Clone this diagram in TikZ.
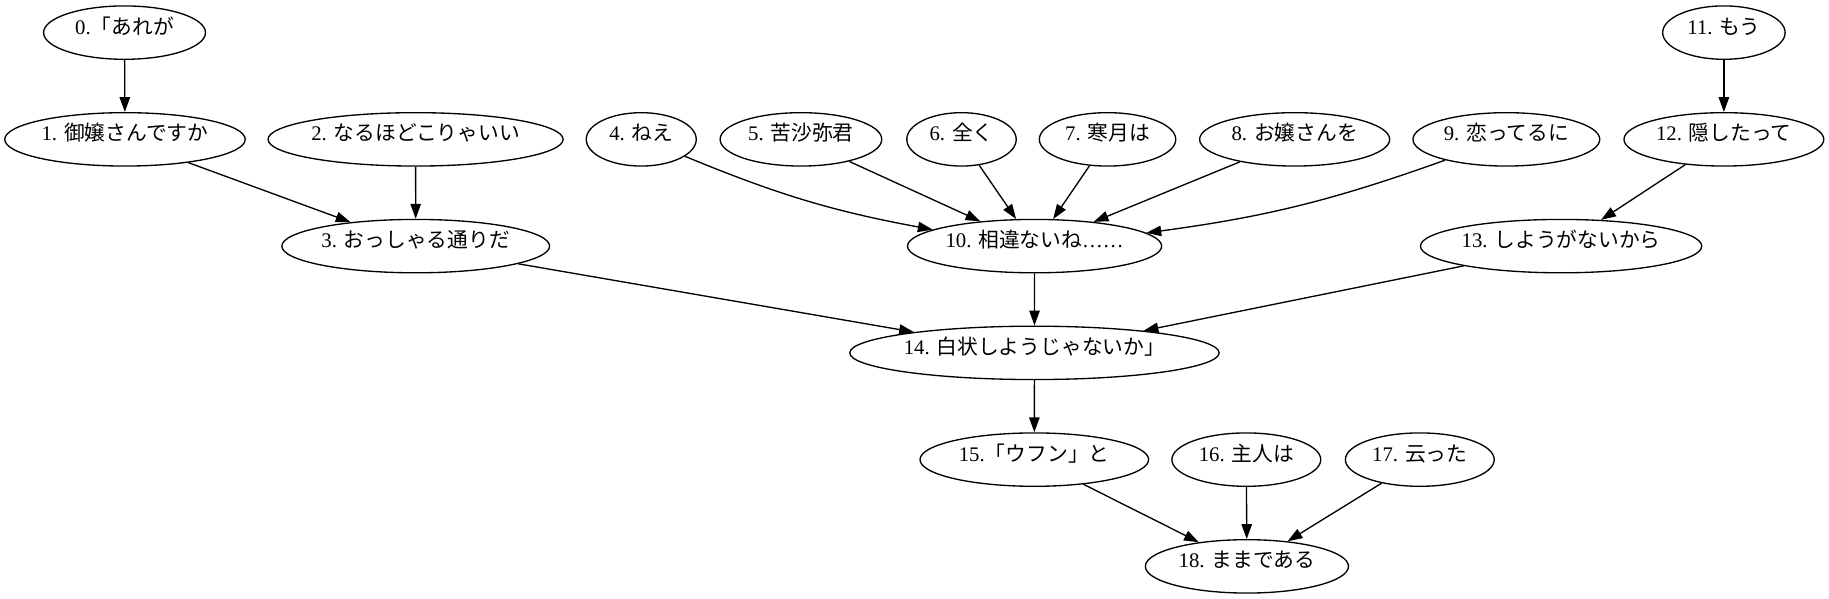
\documentclass[tikz,border=0pt]{standalone}
\usepackage{fontspec}
\setmainfont{Liberation Serif}
\newfontfamily\jpfont{Noto Sans CJK JP}
\usetikzlibrary{shapes.geometric,arrows.meta}
\newcommand{\jtxt}[1]{{\jpfont #1}}
\begin{document}
\begin{tikzpicture}[x=1pt,y=1pt,
  gnode/.style={draw, ellipse, line width=0.9pt, inner sep=0pt, minimum height=36pt,
    text height=10pt, text depth=8pt,
    font=\fontsize{14}{16}\selectfont},
  garrow/.style={line width=0.9pt, -{Triangle[length=10pt,width=7pt]}}]
\useasboundingbox (0,0) rectangle (1233.6,404);
\node[gnode, minimum width=109.2pt] (n0) at (84.0,382) {0.\jtxt{「あれが}};
\node[gnode, minimum width=162.2pt] (n1) at (84.3,310) {1. \jtxt{御嬢さんですか}};
\node[gnode, minimum width=197.8pt] (n2) at (280.3,310) {2. \jtxt{なるほどこりゃいい}};
\node[gnode, minimum width=180.6pt] (n3) at (280.4,238) {3. \jtxt{おっしゃる通りだ}};
\node[gnode, minimum width=74.2pt] (n4) at (432.5,310) {4. \jtxt{ねえ}};
\node[gnode, minimum width=109pt] (n5) at (540.2,310) {5. \jtxt{苦沙弥君}};
\node[gnode, minimum width=73.8pt] (n6) at (648.5,310) {6. \jtxt{全く}};
\node[gnode, minimum width=92pt] (n7) at (747.0,310) {7. \jtxt{寒月は}};
\node[gnode, minimum width=128.2pt] (n8) at (873.2,310) {8. \jtxt{お嬢さんを}};
\node[gnode, minimum width=126pt] (n9) at (1016.0,310) {9. \jtxt{恋ってるに}};
\node[gnode, minimum width=171.4pt] (n10) at (697.8,238) {10. \jtxt{相違ないね}……};
\node[gnode, minimum width=82.6pt] (n11) at (1162.7,382) {11. \jtxt{もう}};
\node[gnode, minimum width=134.8pt] (n12) at (1162.7,310) {12. \jtxt{隠したって}};
\node[gnode, minimum width=189.4pt] (n13) at (1052.9,238) {13. \jtxt{しようがないから}};
\node[gnode, minimum width=242.6pt] (n14) at (697.7,166) {14. \jtxt{白状しようじゃないか」}};
\node[gnode, minimum width=154.2pt] (n15) at (697.6,94) {15.\jtxt{「ウフン」と}};
\node[gnode, minimum width=100.4pt] (n16) at (840.6,94) {16. \jtxt{主人は}};
\node[gnode, minimum width=100.4pt] (n17) at (957.6,94) {17. \jtxt{云った}};
\node[gnode, minimum width=137pt] (n18) at (841.0,22) {18. \jtxt{ままである}};
\draw[garrow] (n0) -- (n1);
\draw[garrow] (n1) -- (n3);
\draw[garrow] (n2) -- (n3);
\draw[garrow] (n4) to[bend right=6] (n10);
\draw[garrow] (n5) -- (n10);
\draw[garrow] (n6) -- (n10);
\draw[garrow] (n7) -- (n10);
\draw[garrow] (n8) -- (n10);
\draw[garrow] (n9) to[bend left=6] (n10);
\draw[garrow] (n11) -- (n12);
\draw[garrow] (n12) -- (n13);
\draw[garrow] (n3) -- (n14);
\draw[garrow] (n10) -- (n14);
\draw[garrow] (n13) -- (n14);
\draw[garrow] (n14) -- (n15);
\draw[garrow] (n15) -- (n18);
\draw[garrow] (n16) -- (n18);
\draw[garrow] (n17) -- (n18);
\end{tikzpicture}
\end{document}
